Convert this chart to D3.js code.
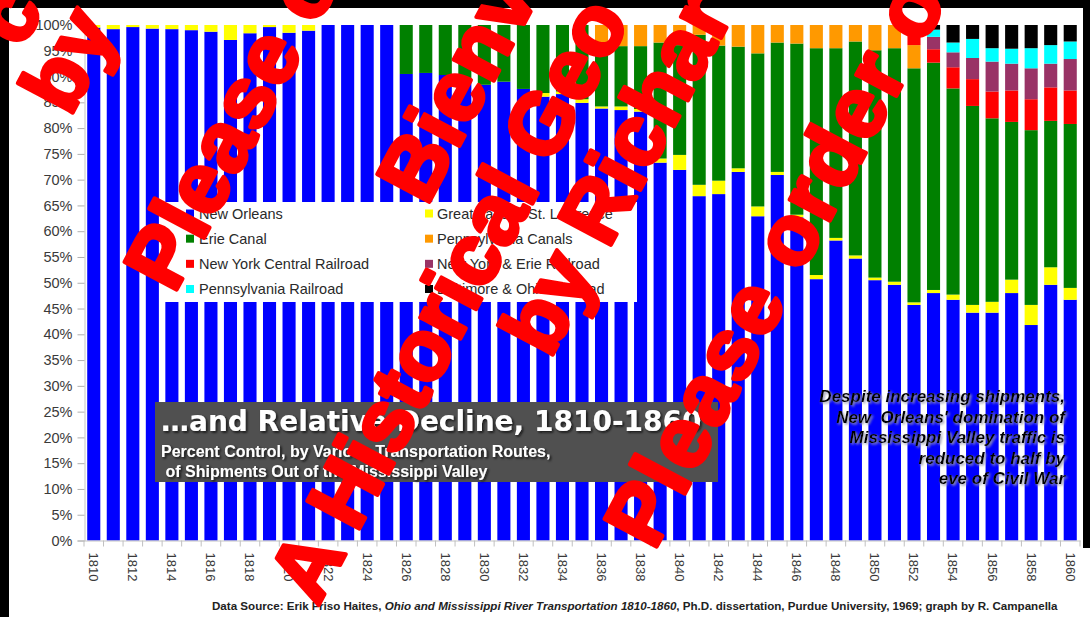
<!DOCTYPE html>
<html>
<head>
<meta charset="utf-8">
<script src="https://cdn.jsdelivr.net/npm/d3@7"></script>
<style>
  body { margin: 0; background: #fff; }
  svg { display: block; font-family: "Liberation Sans", Arial, sans-serif; }
</style>
</head>
<body>
<svg id="chart" width="1090" height="617"></svg>
<script>
// Shipment shares (%) out of the Mississippi Valley, by route, 1810-1860
const years = [1810,1811,1812,1813,1814,1815,1816,1817,1818,1819,
               1820,1821,1822,1823,1824,1825,1826,1827,1828,1829,
               1830,1831,1832,1833,1834,1835,1836,1837,1838,1839,
               1840,1841,1842,1843,1844,1845,1846,1847,1848,1849,
               1850,1851,1852,1853,1854,1855,1856,1857,1858,1859,1860];

const newOrleans = [99.5,99.2,99.6,99.3,99.2,99.0,98.7,97.1,98.4,99.6,
                    98.5,98.9,100,100,100,100,90.5,90.7,90.3,89.6,
                    88.4,89.0,87.6,86.1,86.6,84.9,83.8,83.5,83.2,73.3,
                    71.9,66.8,67.2,71.5,62.9,70.9,62.7,50.7,58.2,54.7,
                    50.5,49.6,45.7,48.0,46.7,44.2,44.2,48.0,41.8,49.6,46.7];

const greatLakes = [0.5,0.8,0.4,0.7,0.8,1.0,1.3,2.9,1.6,0.4,
                    1.5,1.1,0,0,0,0,0,0,0,0,
                    0,0,0,0.7,0.5,0.7,0.4,0.7,0.5,0.8,
                    2.9,2.2,2.6,0.7,1.9,0.6,0.5,0.8,0.5,0.6,
                    0.5,0.6,0.5,0.6,1.0,1.5,2.1,2.6,3.9,3.4,2.3];

const erieCanal = [0,0,0,0,0,0,0,0,0,0,
                   0,0,0,0,0,0,9.5,9.3,9.7,10.4,
                   11.6,11.0,12.4,13.2,12.9,14.4,10.3,11.7,12.2,22.5,
                   21.3,29.1,26.2,23.6,29.7,25.1,33.2,44.0,36.8,41.5,
                   44.1,45.3,45.4,44.1,40.0,38.6,35.6,30.6,33.9,28.4,31.8];

const pennCanals = [0,0,0,0,0,0,0,0,0,0,
                    0,0,0,0,0,0,0,0,0,0,
                    0,0,0,0,0,0,5.5,4.1,4.1,3.4,
                    3.9,1.9,4.0,4.2,5.5,3.4,3.6,4.5,4.5,3.2,
                    4.9,4.5,4.5,0,0,0,0,0,0,0,0];

const nyCentral = [0,0,0,0,0,0,0,0,0,0,
                   0,0,0,0,0,0,0,0,0,0,
                   0,0,0,0,0,0,0,0,0,0,
                   0,0,0,0,0,0,0,0,0,0,
                   0,0,2.0,2.6,4.1,5.2,5.2,6.1,6.0,6.5,6.5];

const nyErie = [0,0,0,0,0,0,0,0,0,0,
                0,0,0,0,0,0,0,0,0,0,
                0,0,0,0,0,0,0,0,0,0,
                0,0,0,0,0,0,0,0,0,0,
                0,0,1.9,2.4,2.9,4.1,5.8,5.2,6.0,4.6,6.1];

const pennRailroad = [0,0,0,0,0,0,0,0,0,0,
                      0,0,0,0,0,0,0,0,0,0,
                      0,0,0,0,0,0,0,0,0,0,
                      0,0,0,0,0,0,0,0,0,0,
                      0,0,0,1.4,1.9,3.7,2.6,2.9,3.9,3.6,3.4];

const baltOhio = [0,0,0,0,0,0,0,0,0,0,
                  0,0,0,0,0,0,0,0,0,0,
                  0,0,0,0,0,0,0,0,0,0,
                  0,0,0,0,0,0,0,0,0,0,
                  0,0,0,0.9,3.4,2.7,4.5,4.6,4.5,3.9,3.2];

const routeNames = ["New Orleans", "Great Lakes / St. Lawrence", "Erie Canal", "Pennsylvania Canals",
                    "New York Central Railroad", "New York & Erie Railroad", "Pennsylvania Railroad",
                    "Baltimore & Ohio Railroad"];
const routeColors = ["#0000ff", "#ffff00", "#008000", "#ff9900", "#ff0000", "#993366", "#00ffff", "#000000"];
const yTicks = [0,5,10,15,20,25,30,35,40,45,50,55,60,65,70,75,80,85,90,95,100];
const xTickYears = [1810,1812,1814,1816,1818,1820,1822,1824,1826,1828,1830,1832,1834,1836,
                    1838,1840,1842,1844,1846,1848,1850,1852,1854,1856,1858,1860];

// Legend reading order: left column, then right column
const legendLeft = ["New Orleans", "Erie Canal", "New York Central Railroad", "Pennsylvania Railroad"];
const legendRight = ["Great Lakes / St. Lawrence", "Pennsylvania Canals", "New York & Erie Railroad", "Baltimore & Ohio Railroad"];

const titleText = "\u2026and Relative Decline, 1810-1860";
const subtitleLines = ["Percent Control, by Various Transportation Routes,", " of Shipments Out of the Mississippi Valley"];
const noteLines = ["Despite increasing shipments,", "New  Orleans' domination of", "Mississippi Valley traffic is",
                   "reduced to half by", "eve of Civil War"];

// ---------- build table ----------
const seriesArrays = [newOrleans, greatLakes, erieCanal, pennCanals, nyCentral, nyErie, pennRailroad, baltOhio];
const table = years.map((yr, i) => {
  const row = { year: yr };
  routeNames.forEach((n, k) => { row[n] = seriesArrays[k][i]; });
  return row;
});
const colorOf = d3.scaleOrdinal().domain(routeNames).range(routeColors);

const svg = d3.select("#chart");
const W = 1090, H = 617;
svg.append("rect").attr("width", W).attr("height", H).attr("fill", "#fff");

const defs = svg.append("defs");
const sh1 = defs.append("filter").attr("id", "darkShadow").attr("x", "-5%").attr("y", "-20%").attr("width", "110%").attr("height", "140%");
sh1.append("feDropShadow").attr("dx", 1.5).attr("dy", 1.5).attr("stdDeviation", 0.8).attr("flood-color", "#111").attr("flood-opacity", 0.9);
const sh2 = defs.append("filter").attr("id", "greyShadow").attr("x", "-5%").attr("y", "-20%").attr("width", "110%").attr("height", "140%");
sh2.append("feDropShadow").attr("dx", 1.5).attr("dy", 1.5).attr("stdDeviation", 0.9).attr("flood-color", "#9a9ab0").attr("flood-opacity", 1);

// ---------- scales ----------
const x = d3.scaleBand().domain(years).range([84, 1080]).paddingInner(0.33).paddingOuter(0.165);
const y = d3.scaleLinear().domain([0, 100]).range([540.5, 25]);

// ---------- bars ----------
const stacked = d3.stack().keys(routeNames)(table);
const barG = svg.append("g");
barG.selectAll("g.layer").data(stacked).join("g")
  .attr("class", "layer")
  .attr("fill", s => colorOf(s.key))
  .selectAll("rect").data(s => s).join("rect")
  .attr("x", d => x(d.data.year))
  .attr("width", x.bandwidth())
  .attr("y", d => y(d[1]))
  .attr("height", d => Math.max(0, y(d[0]) - y(d[1])));

// ---------- y axis ----------
const yAxis = svg.append("g").attr("transform", "translate(84.5,0)")
  .call(d3.axisLeft(y).tickValues(yTicks).tickFormat(d => d + "%").tickSize(7).tickPadding(5));
yAxis.select(".domain").attr("stroke", "#c4c4c4");
yAxis.selectAll(".tick line").attr("stroke", "#b0b0b0");
yAxis.selectAll("text").attr("fill", "#3a3a3a").attr("font-size", 14.5)
  .attr("font-family", "'Liberation Sans', Arial, sans-serif");

// ---------- x axis ----------
const xAxis = svg.append("g").attr("transform", "translate(0,540.5)")
  .call(d3.axisBottom(x).tickValues(xTickYears).tickSize(0).tickPadding(0));
xAxis.select(".domain").attr("stroke", "#c4c4c4");
xAxis.selectAll("text")
  .attr("transform", "rotate(90)")
  .attr("x", 12).attr("y", 0).attr("dy", "0.35em")
  .attr("text-anchor", "start")
  .attr("fill", "#3a3a3a").attr("font-size", 13)
  .attr("font-family", "'Liberation Sans', Arial, sans-serif");
// category separators below the baseline
const gap = x.step() * x.paddingInner();
xAxis.selectAll("line.sep").data(years.concat([null])).join("line")
  .attr("class", "sep")
  .attr("x1", d => d === null ? x(years[years.length - 1]) + x.bandwidth() + gap / 2 : x(d) - gap / 2)
  .attr("x2", d => d === null ? x(years[years.length - 1]) + x.bandwidth() + gap / 2 : x(d) - gap / 2)
  .attr("y1", 0).attr("y2", 6).attr("stroke", "#c0c0c0");

// ---------- legend ----------
const lg = svg.append("g");
lg.append("rect").attr("x", 160).attr("y", 202).attr("width", 477).attr("height", 100).attr("fill", "#fff");
const rowY = d3.scalePoint().domain([0, 1, 2, 3]).range([213.5, 289]);
[[legendLeft, 186, 199], [legendRight, 425, 437]].forEach(([names, sx, tx]) => {
  names.forEach((n, i) => {
    lg.append("rect").attr("x", sx).attr("y", rowY(i) - 4).attr("width", 8).attr("height", 8).attr("fill", colorOf(n));
    lg.append("text").attr("x", tx).attr("y", rowY(i) + 5).attr("font-size", 14.5).attr("fill", "#2a2a2a").text(n);
  });
});

// ---------- title box ----------
const tb = svg.append("g");
tb.append("rect").attr("x", 155).attr("y", 402).attr("width", 563).attr("height", 80).attr("fill", "#505050");
tb.append("text").attr("x", 161).attr("y", 431).attr("font-size", 28).attr("font-weight", "bold")
  .attr("font-family", "'DejaVu Sans', Verdana, sans-serif")
  .attr("fill", "#fff").attr("filter", "url(#darkShadow)").text(titleText);
subtitleLines.forEach((t, i) => {
  tb.append("text").attr("x", 161).attr("y", 457 + i * 20).attr("font-size", 16).attr("font-weight", "bold")
    .attr("fill", "#fff").attr("filter", "url(#darkShadow)")
    .style("white-space", "pre").text(t);
});

// ---------- annotation ----------
const note = svg.append("g");
noteLines.forEach((t, i) => {
  note.append("text").attr("x", 1065).attr("y", 402 + i * 20.5).attr("text-anchor", "end")
    .attr("font-size", 17).attr("font-weight", "bold").attr("font-style", "italic")
    .attr("fill", "#000").attr("filter", "url(#greyShadow)")
    .style("white-space", "pre").text(t);
});

// ---------- source line ----------
const src = svg.append("text").attr("x", 212).attr("y", 610).attr("font-size", 11.6).attr("font-weight", "bold").attr("fill", "#222");
src.append("tspan").text("Data Source: Erik Friso Haites, ");
src.append("tspan").attr("font-style", "italic").text("Ohio and Mississippi River Transportation 1810-1860");
src.append("tspan").text(", Ph.D. dissertation, Purdue University, 1969; graph by R. Campanella");

// ---------- black frame ----------
svg.append("rect").attr("x", 0).attr("y", 0).attr("width", W).attr("height", 8).attr("fill", "#000");
svg.append("rect").attr("x", 0).attr("y", 0).attr("width", 9).attr("height", H).attr("fill", "#000");
svg.append("rect").attr("x", 1083).attr("y", 0).attr("width", 7).attr("height", 548).attr("fill", "#000");

// ---------- red overlay lettering ----------
const wmSize = 86, wmAngle = -62;
const wm = svg.append("g").attr("font-size", wmSize).attr("font-weight", "bold")
  .attr("fill", "#ff0000").attr("stroke", "#ff0000").attr("stroke-width", 4).attr("stroke-linejoin", "round");
const wmLines = [
  { t: "c", cx: 6, cy: 14, w: 0.556, ls: 0 },
  { t: "by", cx: 55, cy: 80, w: 0.611, ls: 1 },
  { t: "Please o", cx: 160, cy: 255, w: 0.667, ls: 1 },
  { t: "Bienv", cx: 414, cy: 165, w: 0.722, ls: 1 },
  { t: "A Historical Geo", cx: 305, cy: 565, w: 0.722, ls: 0 },
  { t: "by Richar", cx: 535, cy: 322, w: 0.611, ls: 0 },
  { t: "Please order o", cx: 640, cy: 512, w: 0.667, ls: 2.5 }
];
wmLines.forEach(l => {
  wm.append("text")
    .attr("transform", `translate(${l.cx},${l.cy}) rotate(${wmAngle})`)
    .attr("x", -l.w * wmSize / 2).attr("y", 0.36 * wmSize)
    .attr("letter-spacing", l.ls)
    .text(l.t);
});
</script>
</body>
</html>
